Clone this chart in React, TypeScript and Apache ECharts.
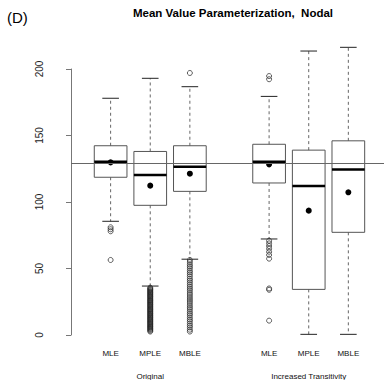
import React, { useEffect, useRef } from "react";
import * as echarts from "echarts";

const categories = ["MLE", "MPLE", "MBLE", "", "MLE", "MPLE", "MBLE"];
const groupLabels = ["", "Original", "", "", "", "Increased Transitivity", ""];
const slots = [1, 2, 3, 5, 6, 7];
const whiskerLow = [85.5, 36.8, 57, 72.2, 0.5, 0.5];
const q1 = [118.6, 97.5, 108, 114.3, 34.3, 77.2];
const medians = [130.3, 120.3, 126.5, 130.3, 112, 124.5];
const q3 = [142.3, 138, 142.3, 143.4, 139, 146];
const whiskerHigh = [178, 193, 186.7, 179.4, 213.5, 216.3];
const means = [129.8, 112.3, 121.3, 128.3, 93.5, 107.3];
const outliers: number[][] = [
  [81, 79.5, 78, 56.4],
  [35.6, 35.0, 34.3, 33.8, 33.1, 32.4, 31.9, 31.2, 30.6, 30.0, 29.3, 28.8, 28.1, 27.5, 26.8, 26.2, 25.7, 25.0, 24.4, 23.8, 23.1, 22.6, 21.9, 21.3, 20.7, 20.0, 19.4, 18.9, 18.2, 17.6, 17.0, 16.3, 15.8, 15.1, 14.5, 13.9, 13.2, 12.7, 12.0, 11.4, 10.8, 10.1, 9.6, 8.9, 8.3, 7.7, 7.0, 6.4, 5.9, 5.2, 4.6, 4.0, 3.3, 2.6],
  [197, 56.4, 54.8, 53.1, 51.7, 50.2, 48.5, 47.1, 45.6, 44.0, 42.3, 40.9, 39.4, 37.8, 36.2, 34.7, 33.3, 31.6, 30.1, 28.5, 27.0, 25.6, 24.1, 22.4, 20.9, 19.5, 17.8, 16.3, 14.9, 13.2, 11.7, 10.3, 8.6, 7.1, 5.7, 4.0, 2.6],
  [194.7, 192.3, 70.9, 68.9, 66.9, 64.9, 62.6, 60.2, 57.4, 35, 34, 10.8],
  [],
  [],
];
const referenceValue = 129.5;
const yTicks = [0, 50, 100, 150, 200];
const titleText = "Mean Value Parameterization,  Nodal";
const panelLabel = "(D)";

const FONT = "'Liberation Sans', Arial, Helvetica, sans-serif";

export default function App() {
  const ref = useRef<HTMLDivElement>(null);
  useEffect(() => {
    if (!ref.current) return;
    const chart = echarts.init(ref.current, undefined, { renderer: "svg" });
    const boxData = slots.map((s, i) => [s, whiskerLow[i], q1[i], medians[i], q3[i], whiskerHigh[i], means[i]]);
    const outlierData: number[][] = [];
    outliers.forEach((list, i) => list.forEach((v) => outlierData.push([slots[i], v])));

    const renderItem = (params: any, api: any) => {
      const x = api.value(0);
      const pLow = api.coord([x, api.value(1)]);
      const pQ1 = api.coord([x, api.value(2)]);
      const pMed = api.coord([x, api.value(3)]);
      const pQ3 = api.coord([x, api.value(4)]);
      const pHigh = api.coord([x, api.value(5)]);
      const pMean = api.coord([x, api.value(6)]);
      const halfW = api.size([0.825, 0])[0] / 2;
      const capHalf = api.size([0.21, 0])[0];
      const cx = pMed[0];
      const dash = { stroke: "#666", lineWidth: 1, lineDash: [3, 3] };
      return {
        type: "group",
        children: [
          { type: "line", shape: { x1: cx, y1: pQ3[1], x2: cx, y2: pHigh[1] }, style: dash },
          { type: "line", shape: { x1: cx, y1: pQ1[1], x2: cx, y2: pLow[1] }, style: dash },
          { type: "line", shape: { x1: cx - capHalf, y1: pHigh[1], x2: cx + capHalf, y2: pHigh[1] }, style: { stroke: "#222", lineWidth: 1 } },
          { type: "line", shape: { x1: cx - capHalf, y1: pLow[1], x2: cx + capHalf, y2: pLow[1] }, style: { stroke: "#222", lineWidth: 1 } },
          { type: "rect", shape: { x: cx - halfW, y: pQ3[1], width: halfW * 2, height: pQ1[1] - pQ3[1] }, style: { fill: "none", stroke: "#555", lineWidth: 1 } },
          { type: "line", shape: { x1: cx - halfW, y1: pMed[1], x2: cx + halfW, y2: pMed[1] }, style: { stroke: "#000", lineWidth: 2.5 } },
          { type: "circle", shape: { cx: pMean[0], cy: pMean[1], r: 3 }, style: { fill: "#000" } },
        ],
      };
    };

    chart.setOption({
      animation: false,
      backgroundColor: "#fff",
      textStyle: { fontFamily: FONT },
      grid: { left: 71, right: 0, top: 69, bottom: 45 },
      xAxis: [
        {
          type: "value", min: 0, max: 7.9, interval: 1,
          axisLine: { show: false }, axisTick: { show: false }, splitLine: { show: false },
          axisLabel: {
            margin: 14, fontSize: 8, color: "#111", fontFamily: FONT,
            formatter: (v: number) => (Number.isInteger(v) && v >= 1 && v <= 7 ? categories[v - 1] : ""),
          },
        },
        {
          type: "value", min: 0, max: 7.9, interval: 1, position: "bottom",
          axisLine: { show: false }, axisTick: { show: false }, splitLine: { show: false },
          axisLabel: {
            margin: 37, fontSize: 8, color: "#111", fontFamily: FONT,
            formatter: (v: number) => (Number.isInteger(v) && v >= 1 && v <= 7 ? groupLabels[v - 1] : ""),
          },
        },
      ],
      yAxis: {
        type: "value", min: yTicks[0], max: yTicks[yTicks.length - 1], interval: 50, offset: 14,
        axisLine: { show: true, lineStyle: { color: "#777", width: 1 } },
        axisTick: { show: true, length: 5, lineStyle: { color: "#777" } },
        splitLine: { show: false },
        axisLabel: { rotate: 90, margin: 13, fontSize: 10, color: "#222", fontFamily: FONT },
      },
      graphic: [
        { type: "text", x: 233, y: 13, style: { text: titleText, textAlign: "center", textVerticalAlign: "middle", font: `bold 11.5px ${FONT}`, fill: "#000" } },
        { type: "text", x: 7, y: 17, style: { text: panelLabel, textAlign: "left", textVerticalAlign: "middle", font: `15px ${FONT}`, fill: "#000" } },
      ],
      series: [
        {
          type: "custom", xAxisIndex: 0, renderItem, clip: false,
          encode: { x: 0, y: [1, 2, 3, 4, 5] },
          data: boxData,
          markLine: {
            silent: true, symbol: "none", label: { show: false },
            lineStyle: { color: "#666", width: 1, type: "solid" },
            data: [{ yAxis: referenceValue }],
          },
          z: 2,
        },
        {
          type: "scatter", xAxisIndex: 0, data: outlierData, symbol: "circle", symbolSize: 5,
          itemStyle: { color: "rgba(0,0,0,0)", borderColor: "#222", borderWidth: 0.9 },
          z: 3,
        },
      ],
    });
    return () => chart.dispose();
  }, []);
  return <div ref={ref} style={{ position: "fixed", left: 0, top: 0, width: 387, height: 380 }} />;
}
